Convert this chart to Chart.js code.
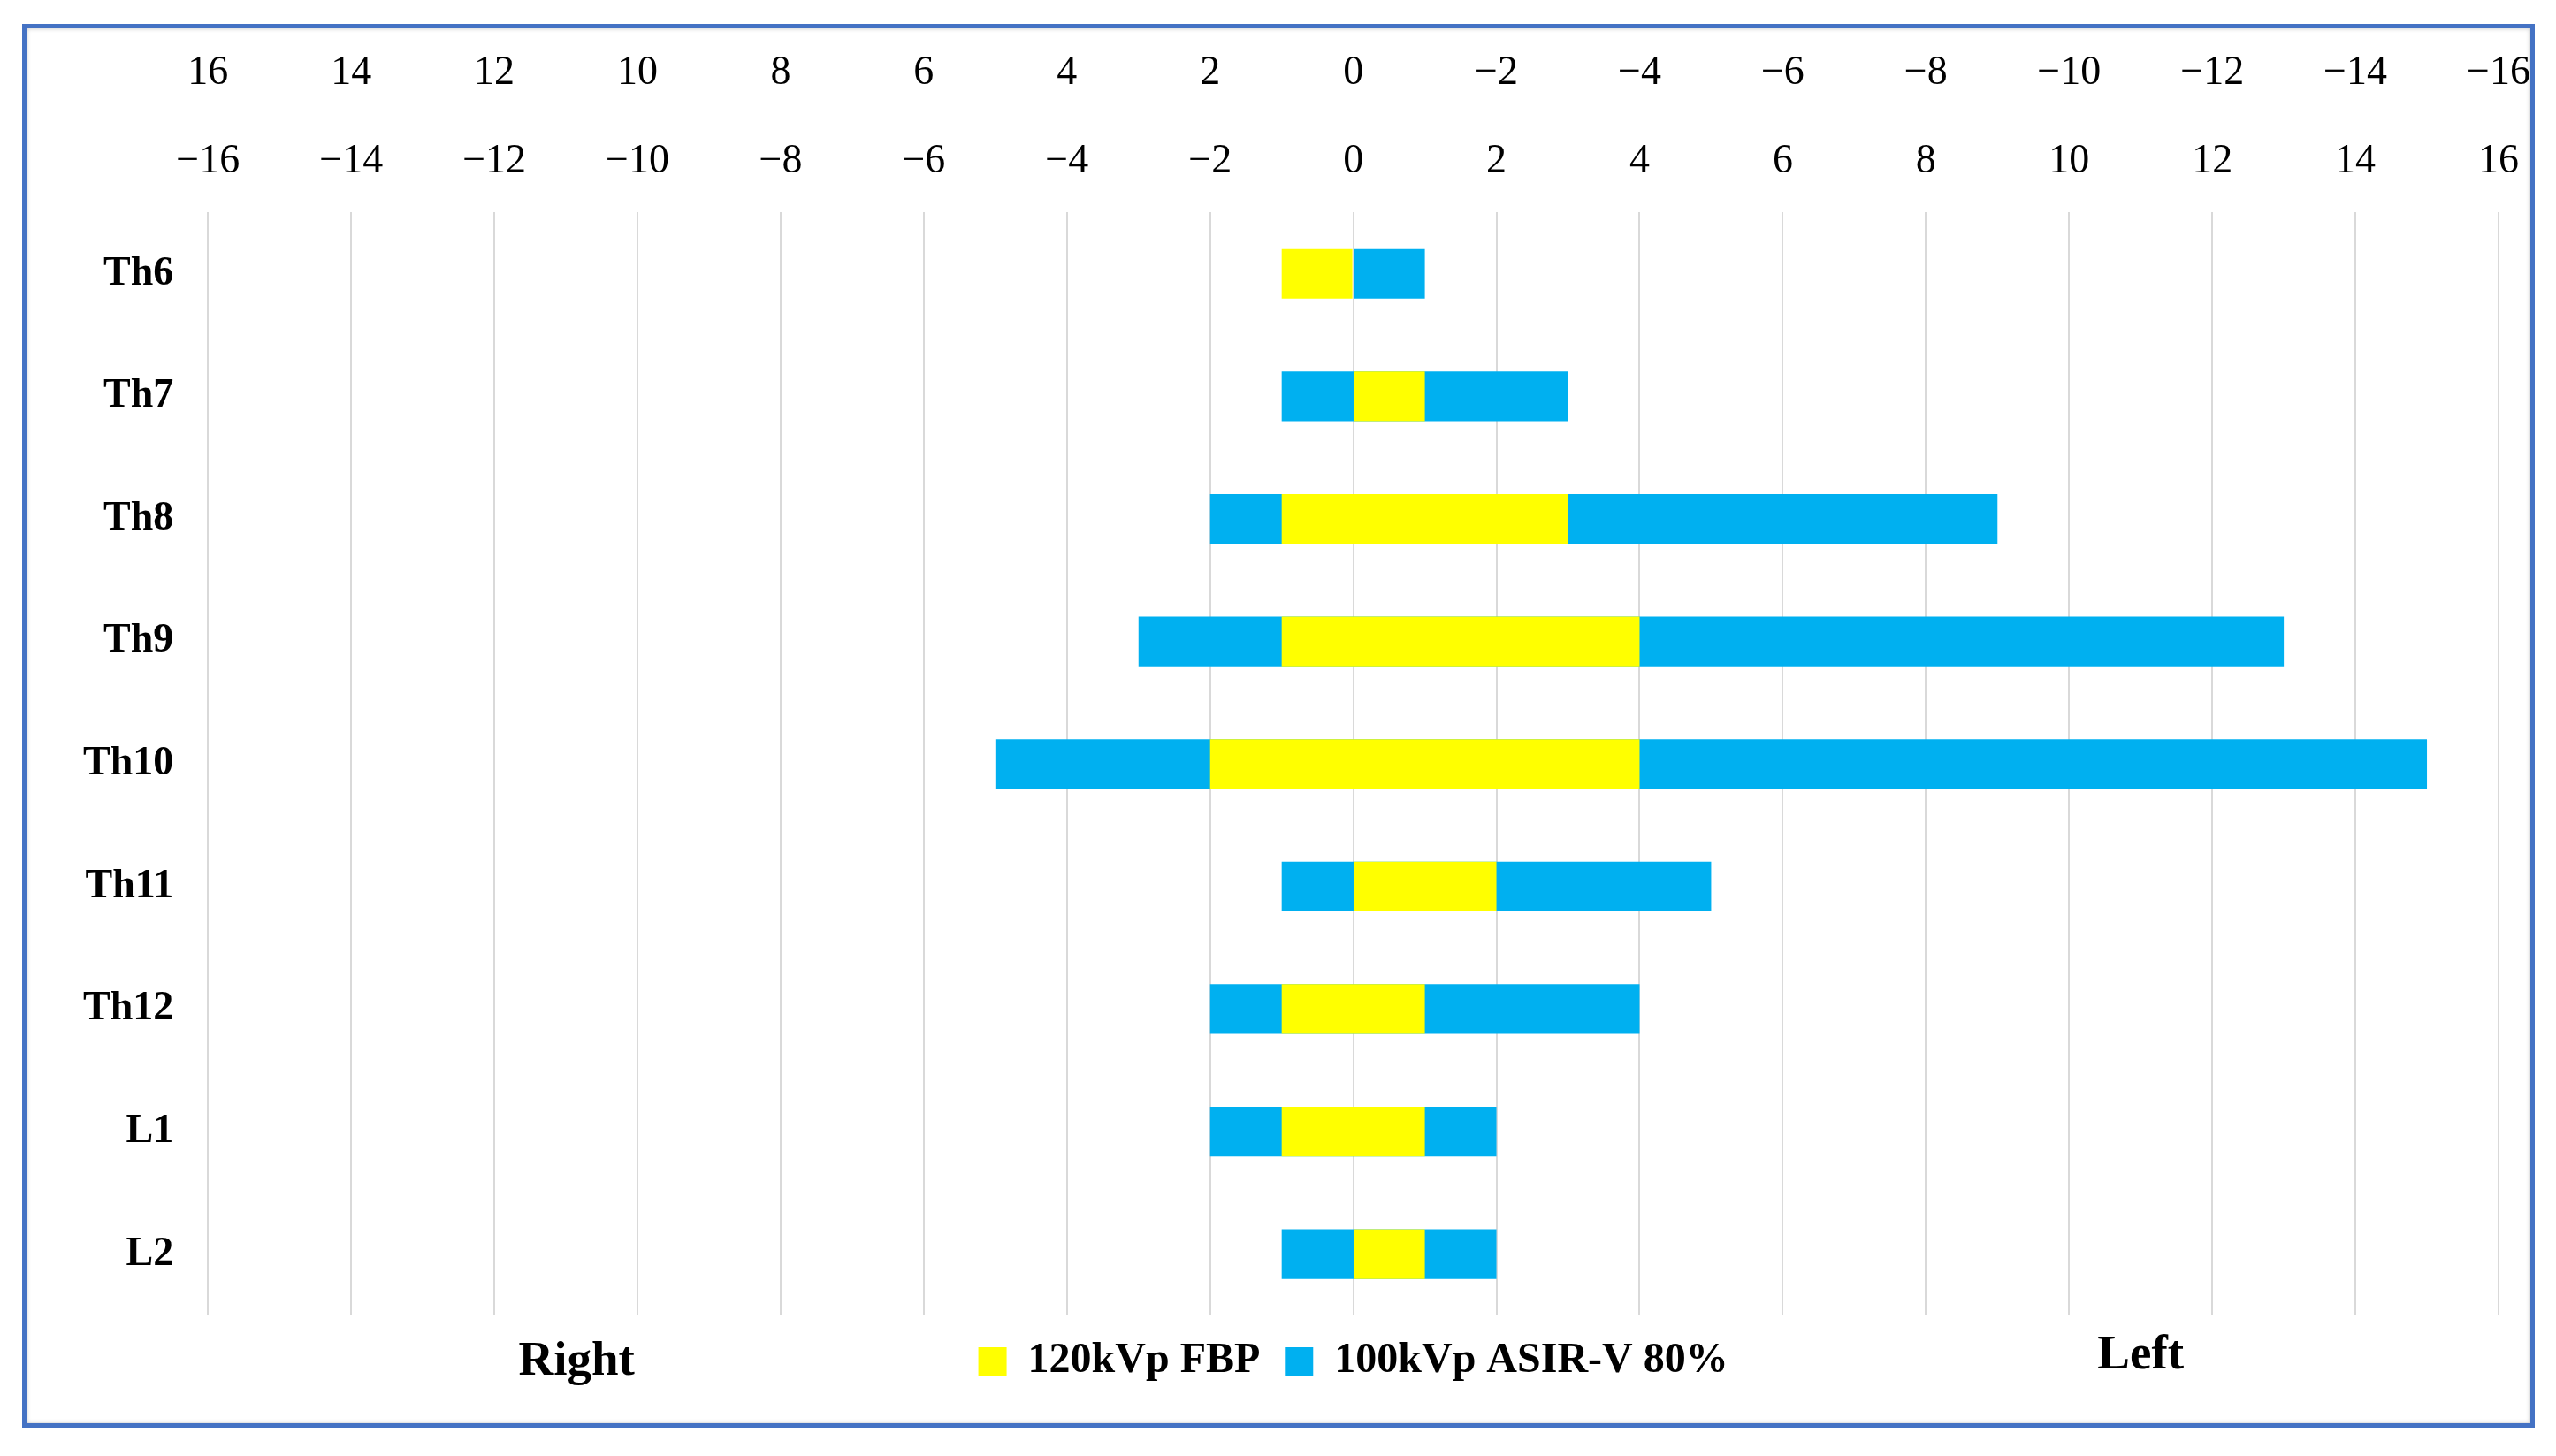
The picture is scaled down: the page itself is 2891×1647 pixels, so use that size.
<!DOCTYPE html>
<html>
<head>
<meta charset="utf-8">
<script src="https://cdn.jsdelivr.net/npm/chart.js@4.4.1/dist/chart.umd.min.js"></script>
<style>
    html, body { margin: 0; padding: 0; background: #fff; }
    #wrap { position: relative; width: 2891px; height: 1647px; }
    #frame {
        position: absolute; left: 25px; top: 27px; width: 2832px; height: 1578px;
        border: 5px solid #4472C4;
        box-shadow: inset 0 0 5px rgba(0, 0, 0, 0.25);
    }
    canvas { position: absolute; left: 0; top: 0; }
</style>
</head>
<body>
<div id="wrap">
    <div id="frame"></div>
    <canvas id="chart" width="2891" height="1647"></canvas>
</div>
<script>
// vertebral levels, top to bottom
const levels = ['Th6', 'Th7', 'Th8', 'Th9', 'Th10', 'Th11', 'Th12', 'L1', 'L2'];

// extent to the patient's right (negative) and left (positive)
const fbpRight = [-1, 0, -1, -1, -2, 0, -1, -1, 0];
const fbpLeft = [0, 1, 3, 4, 4, 2, 1, 1, 1];
const asirRight = [0, -1, -2, -3, -5, -1, -2, -2, -1];
const asirLeft = [1, 3, 9, 13, 15, 5, 4, 2, 2];

const seriesNames = ['120kVp FBP', '100kVp ASIR-V 80%'];
const axisMin = -16;
const axisMax = 16;
const axisStep = 2;

const sideLabels = ['Right', 'Left'];
const sideLabelAt = [-10.85, 11];

const FONT = "'Liberation Serif', 'Times New Roman', serif";

function fmt(v) {
    return v < 0 ? '\u2212' + Math.abs(v) : String(v);
}

const sideLabelPlugin = {
    id: 'sideLabels',
    afterDraw(chart) {
        const ctx = chart.ctx;
        const x = chart.scales.x;
        const bottom = chart.chartArea.bottom;
        const dy = [67, 60];
        ctx.save();
        ctx.font = 'bold 55px ' + FONT;
        ctx.fillStyle = '#000';
        ctx.textAlign = 'center';
        ctx.textBaseline = 'alphabetic';
        sideLabels.forEach((t, i) => {
            ctx.fillText(t, x.getPixelForValue(sideLabelAt[i]), bottom + dy[i]);
        });
        ctx.restore();
    }
};

const ctx = document.getElementById('chart').getContext('2d');

new Chart(ctx, {
    type: 'bar',
    data: {
        labels: levels,
        datasets: [{
            label: seriesNames[0],
            data: levels.map((_, i) => [fbpRight[i], fbpLeft[i]]),
            backgroundColor: '#FFFF00',
            order: 1
        }, {
            label: seriesNames[1],
            data: levels.map((_, i) => [asirRight[i], asirLeft[i]]),
            backgroundColor: '#00B0F0',
            order: 2
        }]
    },
    options: {
        indexAxis: 'y',
        responsive: false,
        animation: false,
        devicePixelRatio: 1,
        layout: { padding: { top: 40, right: 65, bottom: 73, left: 55 } },
        datasets: {
            bar: {
                grouped: false,
                barPercentage: 0.405,
                categoryPercentage: 1,
                borderWidth: 0
            }
        },
        plugins: {
            legend: {
                position: 'bottom',
                fullSize: false,
                labels: {
                    color: '#000',
                    font: { family: FONT, size: 48, weight: 'bold' },
                    boxWidth: 32,
                    boxHeight: 32,
                    padding: 28
                }
            },
            tooltip: { enabled: false },
            title: { display: false }
        },
        scales: {
            x: {
                position: 'top',
                min: axisMin,
                max: axisMax,
                weight: 0,
                ticks: {
                    stepSize: axisStep,
                    padding: 30,
                    color: '#000',
                    font: { family: FONT, size: 46 },
                    callback: fmt
                },
                grid: { color: '#d9d9d9', lineWidth: 2, drawTicks: false },
                border: { display: false }
            },
            x2: {
                type: 'linear',
                position: 'top',
                axis: 'x',
                min: axisMin,
                max: axisMax,
                reverse: true,
                weight: 1,
                ticks: {
                    stepSize: axisStep,
                    padding: 15,
                    color: '#000',
                    font: { family: FONT, size: 46 },
                    callback: fmt
                },
                grid: { display: false, drawTicks: false },
                border: { display: false }
            },
            y: {
                ticks: {
                    padding: 39,
                    color: '#000',
                    font: { family: FONT, size: 46, weight: 'bold' }
                },
                grid: { display: false, drawTicks: false },
                border: { display: false }
            }
        }
    },
    plugins: [sideLabelPlugin]
});
</script>
</body>
</html>
